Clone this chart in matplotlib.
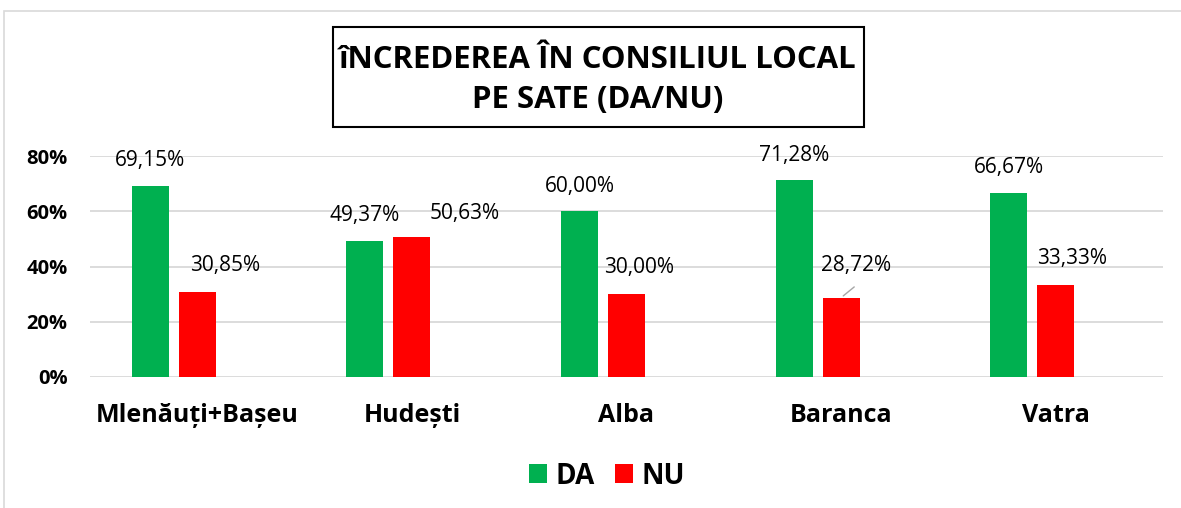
import matplotlib
matplotlib.use("Agg")
import matplotlib.pyplot as plt
import numpy as np
from matplotlib.patches import Rectangle

plt.rcParams['font.family'] = ['Open Sans', 'DejaVu Sans']

sate = ["Mlenăuți+Bașeu", "Hudești", "Alba", "Baranca", "Vatra"]
da = [69.15, 49.37, 60.00, 71.28, 66.67]
nu = [30.85, 50.63, 30.00, 28.72, 33.33]
yticks = [0, 20, 40, 60, 80]

GREEN = "#00B050"
RED = "#FF0000"

fig = plt.figure(figsize=(11.81, 5.08), dpi=100)
W, H = 1181, 508

# outer chart border
fig.patches.append(Rectangle((4 / W, -0.1), 1.2, 1 - 11 / H + 0.1, transform=fig.transFigure,
                             fill=False, edgecolor="#D9D9D9", linewidth=1.2))

ax = fig.add_axes([90 / W, 1 - 377 / H, (1163 - 90) / W, (377 - 156) / H])
x = np.arange(len(sate))
bw = 0.172
off = 0.219
ax.bar(x - off, da, bw, color=GREEN, label="DA", zorder=3)
ax.bar(x, nu, bw, color=RED, label="NU", zorder=3)

ax.set_xlim(-0.5, len(sate) - 0.5)
ax.set_ylim(0, 80)
ax.set_yticks(yticks)
ax.set_yticklabels([f"{v}%" for v in yticks], fontsize=14.5, fontweight="bold")
ax.set_xticks(x)
ax.set_xticklabels(sate, fontsize=18, fontweight="bold")
ax.tick_params(axis="y", length=0, pad=16)
ax.tick_params(axis="x", length=0, pad=19)
ax.grid(axis="y", color="#D9D9D9", linewidth=1.3, zorder=0)
for s in ax.spines.values():
    s.set_visible(False)

# data labels
for i, v in enumerate(da):
    ax.annotate(f"{v:.2f}%".replace(".", ","), (x[i] - off, v), xytext=(0, 18),
                textcoords="offset points", ha="center", va="center", fontsize=15)
nu_dx = [20, 38, 9, 11, 12]
nu_dy = [19, 17, 19, 23, 19]
for i, v in enumerate(nu):
    ax.annotate(f"{v:.2f}%".replace(".", ","), (x[i], v), xytext=(nu_dx[i], nu_dy[i]),
                textcoords="offset points", ha="center", va="center", fontsize=15)
# leader line for Baranca
ax.annotate("", (x[3], nu[3]), xytext=(11, 9), textcoords="offset points",
            arrowprops=dict(arrowstyle="-", color="#A6A6A6", lw=1))

# title box
fig.text(598 / W, 1 - 80 / H, "îNCREDEREA ÎN CONSILIUL LOCAL\nPE SATE (DA/NU)",
         ha="center", va="center", fontsize=22.4, fontweight="bold", linespacing=1.45)
fig.patches.append(Rectangle((333 / W, 1 - 127 / H), (864 - 333) / W, 100 / H,
                             transform=fig.transFigure, fill=False, edgecolor="black",
                             linewidth=1.5))

leg = fig.legend(loc="center", bbox_to_anchor=(607 / W, 1 - 476 / H), ncol=2, frameon=False,
                 prop={"size": 20, "weight": "bold"}, handlelength=0.65, handleheight=0.65,
                 handletextpad=0.3, columnspacing=0.72)

fig.savefig("out.png", dpi=100)
